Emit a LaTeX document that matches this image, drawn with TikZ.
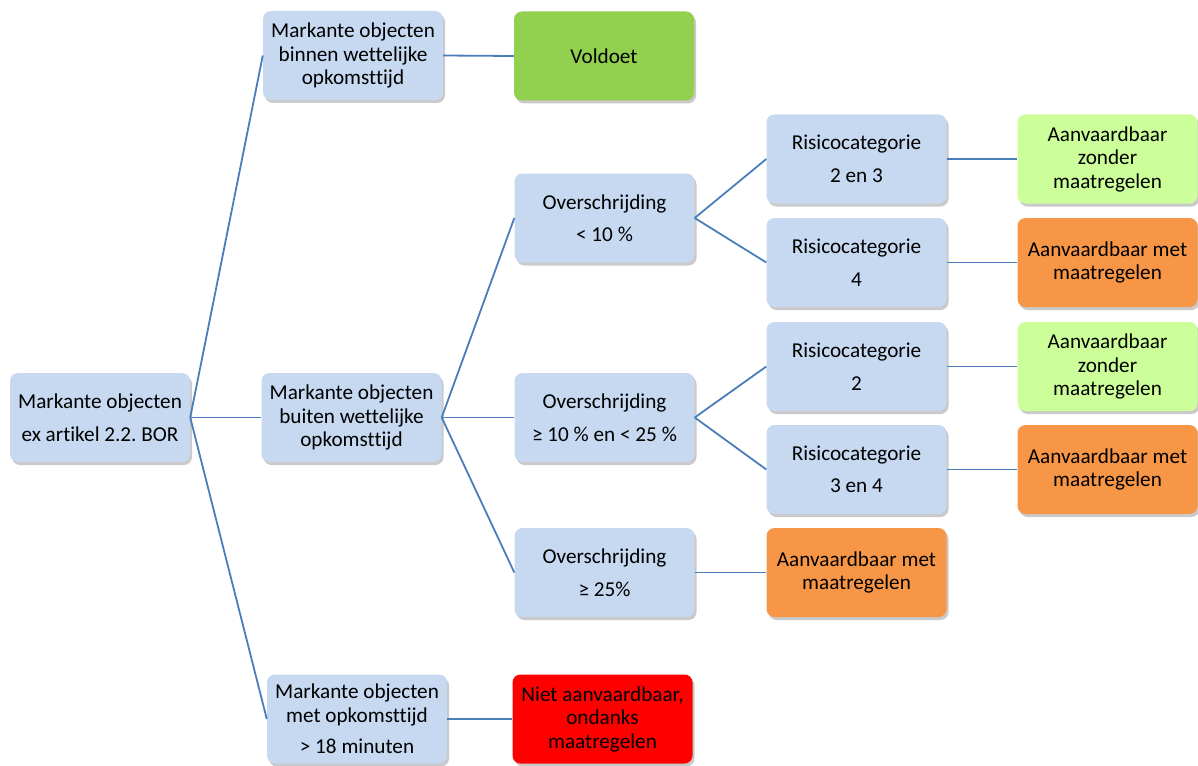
\documentclass[tikz,border=0pt]{standalone}
\usepackage{fontspec}
\setmainfont{Carlito}[Ligatures=NoCommon]
\usetikzlibrary{shadows}
\frenchspacing
\definecolor{boxblue}{HTML}{C6D9F1}
\definecolor{okgreen}{HTML}{92D050}
\definecolor{lightgreen}{HTML}{CCFF99}
\definecolor{warnorange}{HTML}{F79646}
\definecolor{badred}{HTML}{FF0000}
\definecolor{linkblue}{HTML}{4A7EBB}
\tikzset{
  box/.style={rectangle, rounded corners=8pt, minimum width=180pt, minimum height=89pt,
    inner sep=2pt, align=center, font=\fontsize{21.2}{23.5}\selectfont, text=black,
    fill=boxblue, drop shadow={shadow xshift=2pt, shadow yshift=-3pt, opacity=0.35, fill=black!60}},
  bluebox/.style={box, fill=boxblue},
  greenbox/.style={box, fill=okgreen},
  lgreenbox/.style={box, fill=lightgreen},
  orangebox/.style={box, fill=warnorange},
  redbox/.style={box, fill=badred},
  link/.style={draw=linkblue, line width=1.8pt}
}
\begin{document}
\begin{tikzpicture}[x=1pt,y=-1pt]
\useasboundingbox (0,0) rectangle (1198,765);
\node[bluebox] (root) at (100,417.5) {Markante objecten\\[9pt]ex artikel 2.2. BOR};
\node[bluebox] (a1) at (353,55.5) {Markante objecten\\binnen wettelijke\\opkomsttijd};
\node[bluebox] (a2) at (351.5,417.5) {Markante objecten\\buiten wettelijke\\opkomsttijd};
\node[bluebox] (a3) at (357,719) {Markante objecten\\met opkomsttijd\\[8pt]> 18 minuten};
\node[greenbox] (vol) at (604,56) {Voldoet};
\node[redbox] (niet) at (602.5,719) {Niet aanvaardbaar,\\ondanks\\maatregelen};
\node[bluebox] (o1) at (604.5,218) {Overschrijding\\[9pt]< 10 \%};
\node[bluebox] (o2) at (604.5,417.5) {Overschrijding\\[9pt]≥ 10 \% en < 25 \%};
\node[bluebox] (o3) at (604.5,572.5) {Overschrijding\\[9pt]≥ 25\%};
\node[orangebox] (o3r) at (856.5,572.5) {Aanvaardbaar met\\maatregelen};
\node[bluebox] (r1) at (856.5,159) {Risicocategorie\\[9pt]2 en 3};
\node[bluebox] (r2) at (856.5,262.5) {Risicocategorie\\[9pt]4};
\node[bluebox] (r3) at (856.5,366.5) {Risicocategorie\\[9pt]2};
\node[bluebox] (r4) at (856.5,469.5) {Risicocategorie\\[9pt]3 en 4};
\node[lgreenbox] (f1) at (1107.5,159) {Aanvaardbaar\\zonder\\maatregelen};
\node[orangebox] (f2) at (1107.5,262.5) {Aanvaardbaar met\\maatregelen};
\node[lgreenbox] (f3) at (1107.5,366.5) {Aanvaardbaar\\zonder\\maatregelen};
\node[orangebox] (f4) at (1107.5,469.5) {Aanvaardbaar met\\maatregelen};
\draw[link] (root.east) -- (a1.west);
\draw[link] (root.east) -- (a2.west);
\draw[link] (root.east) -- (a3.west);
\draw[link] (a1.east) -- (vol.west);
\draw[link] (a3.east) -- (niet.west);
\draw[link] (a2.east) -- (o1.west);
\draw[link] (a2.east) -- (o2.west);
\draw[link] (a2.east) -- (o3.west);
\draw[link] (o3.east) -- (o3r.west);
\draw[link] (o1.east) -- (r1.west);
\draw[link] (o1.east) -- (r2.west);
\draw[link] (o2.east) -- (r3.west);
\draw[link] (o2.east) -- (r4.west);
\draw[link] (r1.east) -- (f1.west);
\draw[link] (r2.east) -- (f2.west);
\draw[link] (r3.east) -- (f3.west);
\draw[link] (r4.east) -- (f4.west);
\end{tikzpicture}
\end{document}
